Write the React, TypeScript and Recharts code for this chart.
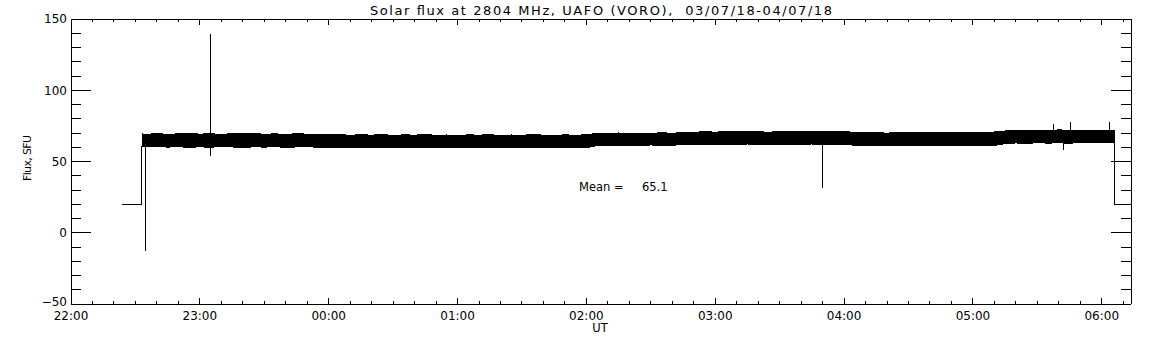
import { Area, ComposedChart, Line, XAxis, YAxis } from "recharts";

// time in minutes after 22:00 UT (03/07/18), flux in SFU
const LEAD_T = [23.8, 32.7, 32.7];
const LEAD_FLUX = [20, 20, 61];

// noise band envelope (lower / upper edge)
const BAND_T = [
  33, 35, 40, 45, 50, 55, 60, 65, 70, 75, 80, 85, 90, 95, 100, 105, 110, 115,
  120, 125, 130, 135, 140, 145, 150, 155, 160, 165, 170, 175, 180, 185, 190,
  195, 200, 205, 210, 215, 220, 225, 230, 235, 240, 245, 250, 255, 260, 265,
  270, 275, 280, 285, 290, 295, 300, 305, 310, 315, 320, 325, 330, 335, 340,
  345, 350, 355, 360, 365, 370, 375, 380, 385, 390, 395, 400, 405, 410, 415,
  420, 425, 430, 435, 440, 445, 450, 455, 460, 465, 470, 475, 480, 485, 486,
];
const BAND_LO = [
  60.6, 60.2, 60.5, 60.1, 60.4, 59.9, 60.3, 60.0, 60.5, 60.2, 59.8, 60.3,
  60.1, 60.4, 59.9, 60.2, 60.4, 60.0, 59.8, 60.1, 59.7, 60.0, 59.6, 59.9,
  59.7, 60.1, 59.8, 59.5, 59.9, 59.7, 60.0, 59.6, 59.8, 59.5, 59.9, 59.7,
  60.0, 59.6, 59.8, 59.5, 59.9, 59.7, 59.6, 61.2, 61.5, 61.1, 61.4, 61.2,
  61.6, 61.3, 61.5, 61.7, 61.9, 62.2, 61.8, 62.1, 61.9, 62.3, 62.0, 61.8,
  62.2, 61.9, 62.1, 62.3, 61.9, 62.1, 61.8, 61.5, 61.1, 61.4, 61.0, 61.3,
  61.1, 60.9, 61.3, 61.0, 61.4, 61.2, 61.0, 61.4, 61.3, 62.6, 63.0, 62.7,
  63.2, 62.9, 63.1, 62.8, 63.3, 63.0, 63.4, 63.1, 63.3,
];
const BAND_HI = [
  69.4, 69.0, 69.6, 69.1, 69.4, 69.8, 69.2, 69.5, 69.0, 69.6, 69.3, 69.7,
  69.1, 69.4, 69.0, 69.5, 69.2, 68.9, 68.7, 68.9, 68.4, 68.8, 68.5, 68.9,
  68.3, 68.7, 68.5, 68.9, 68.4, 68.6, 68.2, 68.7, 68.5, 68.8, 68.3, 68.6,
  68.4, 68.9, 68.5, 68.3, 68.7, 68.4, 68.8, 69.8, 69.5, 70.0, 69.6, 69.9,
  69.7, 70.2, 69.8, 70.3, 70.5, 70.9, 70.6, 71.0, 70.7, 71.1, 70.8, 70.6,
  71.0, 70.7, 71.2, 70.9, 71.1, 70.8, 71.0, 70.4, 70.0, 70.3, 69.9, 70.4,
  70.1, 70.5, 70.0, 70.3, 70.6, 70.2, 70.5, 70.3, 70.7, 71.4, 71.8, 71.5,
  72.0, 71.7, 72.2, 71.9, 72.1, 71.6, 72.0, 71.7, 71.4,
];

const TAIL_T = [485.8, 485.8, 493.6];
const TAIL_FLUX = [64, 20, 20];

const SPIKE_T = [34.6, 64.9, 349.9, 457.7, 462.4, 465.2, 483.4];
const SPIKE_LO = [-13, 53.7, 31.5, 70, 58.4, 70, 70];
const SPIKE_HI = [61, 139.7, 62, 76.4, 63.5, 77.8, 77.8];

const HOUR_LABELS = [
  "22:00", "23:00", "00:00", "01:00", "02:00", "03:00", "04:00", "05:00", "06:00",
];
const FLUX_LABELS = ["\u221250", "0", "50", "100", "150"];
const FLUX_MAJOR = [-50, 0, 50, 100, 150];

const T_MAX = 493.6;
const TIME_TICKS = Array.from({ length: 50 }, (_, i) => i * 10);
const FLUX_TICKS = Array.from({ length: 21 }, (_, i) => -50 + i * 10);

const lead = LEAD_T.map((t, i) => ({ t, flux: LEAD_FLUX[i] }));
const tail = TAIL_T.map((t, i) => ({ t, flux: TAIL_FLUX[i] }));
const band = BAND_T.map((t, i) => ({ t, range: [BAND_LO[i], BAND_HI[i]] }));
const spikes = SPIKE_T.map((t, i) => [
  { t, flux: SPIKE_LO[i] },
  { t, flux: SPIKE_HI[i] },
]);

const FONT = "'DejaVu Sans', sans-serif";

const XTick = (p: any) => {
  const v = p.payload.value;
  const major = v % 60 === 0;
  const len = major ? 6 : 3;
  const dir = p.side === "top" ? 1 : -1;
  return (
    <g>
      <line x1={p.x} x2={p.x} y1={p.y} y2={p.y + dir * len} stroke="#000" />
      {p.side !== "top" && major && (
        <text x={p.x} y={p.y + 15.5} textAnchor="middle" fontSize={12} fontFamily={FONT} fill="#000">
          {HOUR_LABELS[v / 60]}
        </text>
      )}
    </g>
  );
};

const YTick = (p: any) => {
  const v = p.payload.value;
  const idx = FLUX_MAJOR.indexOf(v);
  const len = idx >= 0 ? 20 : 10;
  const dir = p.side === "right" ? -1 : 1;
  // the bottom label sits a little above its tick, as in the original plot
  const dy = idx === 0 ? 1.5 : 4.4;
  return (
    <g>
      <line x1={p.x} x2={p.x + dir * len} y1={p.y} y2={p.y} stroke="#000" />
      {p.side !== "right" && idx >= 0 && (
        <text x={p.x - 4} y={p.y + dy} textAnchor="end" fontSize={12} fontFamily={FONT} fill="#000">
          {FLUX_LABELS[idx]}
        </text>
      )}
    </g>
  );
};

export default function App() {
  return (
    <div style={{ position: "absolute", left: 0, top: 0, width: 1152, height: 345, background: "#fff" }}>
      <style>{`.recharts-surface { shape-rendering: crispEdges; }`}</style>
      <ComposedChart width={1152} height={345} margin={{ top: 18, right: 20, bottom: 0, left: 0 }}>
        <XAxis
          xAxisId={0}
          dataKey="t"
          type="number"
          domain={[0, T_MAX]}
          ticks={TIME_TICKS}
          interval={0}
          height={41}
          allowDataOverflow
          axisLine={{ stroke: "#000" }}
          tickLine={false}
          tickSize={0}
          tickMargin={0}
          tick={(p: any) => <XTick {...p} side="bottom" />}
        />
        <XAxis
          xAxisId="top"
          orientation="top"
          dataKey="t"
          type="number"
          domain={[0, T_MAX]}
          ticks={TIME_TICKS}
          interval={0}
          height={1}
          allowDataOverflow
          axisLine={{ stroke: "#000" }}
          tickLine={false}
          tickSize={0}
          tickMargin={0}
          tick={(p: any) => <XTick {...p} side="top" />}
        />
        <YAxis
          yAxisId={0}
          type="number"
          domain={[-50, 150]}
          ticks={FLUX_TICKS}
          interval={0}
          width={71}
          allowDataOverflow
          axisLine={{ stroke: "#000" }}
          tickLine={false}
          tickSize={0}
          tickMargin={0}
          tick={(p: any) => <YTick {...p} side="left" />}
        />
        <YAxis
          yAxisId="right"
          orientation="right"
          type="number"
          domain={[-50, 150]}
          ticks={FLUX_TICKS}
          interval={0}
          width={1}
          allowDataOverflow
          axisLine={{ stroke: "#000" }}
          tickLine={false}
          tickSize={0}
          tickMargin={0}
          tick={(p: any) => <YTick {...p} side="right" />}
        />
        <Area
          data={band}
          dataKey="range"
          type="linear"
          stroke="#000"
          strokeWidth={1}
          fill="#000"
          fillOpacity={1}
          dot={false}
          activeDot={false}
          isAnimationActive={false}
        />
        <Line data={lead} dataKey="flux" type="linear" stroke="#000" strokeWidth={1} dot={false} activeDot={false} isAnimationActive={false} />
        {/* same domains as the main axes; keeps the top / right frame axes in use */}
        <Line
          data={tail}
          dataKey="flux"
          xAxisId="top"
          yAxisId="right"
          type="linear"
          stroke="#000"
          strokeWidth={1}
          dot={false}
          activeDot={false}
          isAnimationActive={false}
        />
        {spikes.map((s, i) => (
          <Line key={i} data={s} dataKey="flux" type="linear" stroke="#000" strokeWidth={1} dot={false} activeDot={false} isAnimationActive={false} />
        ))}
      </ComposedChart>
      <svg width={1152} height={345} style={{ position: "absolute", left: 0, top: 0, pointerEvents: "none" }}>
        <text x={601} y={15} textAnchor="middle" fontSize={13} fontFamily={FONT} fill="#000" textLength={462} lengthAdjust="spacing" style={{ whiteSpace: "pre" }}>
          Solar flux at 2804 MHz, UAFO (VORO),  03/07/18-04/07/18
        </text>
        <text y={190.5} fontSize={11.5} fontFamily={FONT} fill="#000">
          <tspan x={579}>Mean =</tspan>
          <tspan x={642}>65.1</tspan>
        </text>
        <text x={600} y={332} textAnchor="middle" fontSize={11.5} fontFamily={FONT} fill="#000">
          UT
        </text>
        <text x={31} y={158} transform="rotate(-90 31 158)" textAnchor="middle" fontSize={11} fontFamily={FONT} fill="#000" textLength={46} lengthAdjust="spacing">
          Flux, SFU
        </text>
      </svg>
    </div>
  );
}
